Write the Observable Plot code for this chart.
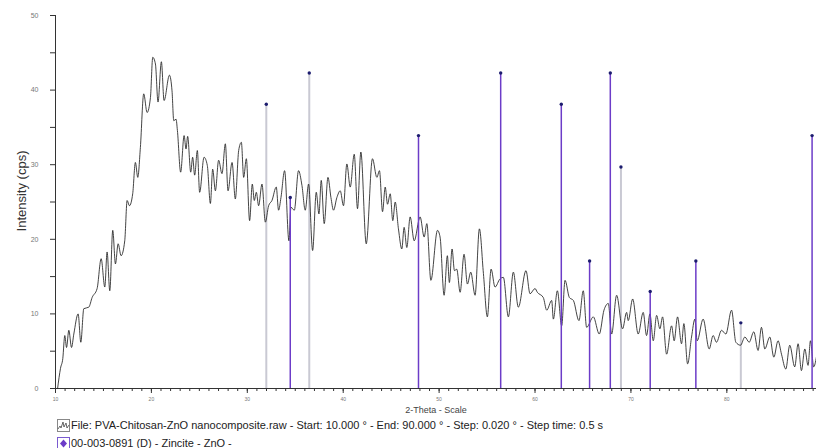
<!DOCTYPE html>
<html>
<head>
<meta charset="utf-8">
<script src="https://cdn.jsdelivr.net/npm/d3@7"></script>
<script src="https://cdn.jsdelivr.net/npm/@observablehq/plot@0.6"></script>
<style>
  html, body { margin: 0; padding: 0; background: #fff; width: 816px; height: 448px; overflow: hidden; }
  #chart svg { display: block; }
  #legend { font-family: "Liberation Sans", Arial, sans-serif; font-size: 11px; color: #222; }
  .lg { display: flex; align-items: center; height: 18px; margin-left: 57px; white-space: nowrap; }
  .lg svg { margin-right: 1px; }
  g[aria-label="y-axis tick label"] text, g[aria-label="x-axis tick label"] text { fill: #777; }
</style>
</head>
<body>
<div id="chart"></div>
<div id="legend"></div>
<script>
const twoTheta = [10.22,10.52,10.76,10.97,11.15,11.39,11.67,11.91,12.36,12.64,12.95,13.47,13.82,14.34,14.76,15.14,15.38,15.66,15.97,16.25,16.53,16.84,17.22,17.47,17.71,18.05,18.33,18.58,18.85,19.20,19.55,19.90,20.14,20.42,20.69,21.04,21.32,21.88,22.15,22.33,22.57,22.71,23.05,23.41,23.61,23.78,24.10,24.30,24.51,24.79,25.03,25.49,25.83,26.15,26.39,26.67,27.01,27.36,27.71,27.99,28.41,28.75,29.10,29.38,29.62,29.90,30.24,30.52,30.73,30.94,31.18,31.53,31.88,32.22,32.57,33.02,33.26,33.51,33.89,34.34,34.55,34.90,35.34,35.70,36.04,36.39,36.81,37.19,37.47,37.71,38.02,38.41,38.72,38.99,39.34,39.69,40.03,40.38,40.73,41.15,41.49,41.84,42.40,43.05,43.51,43.78,44.10,44.38,44.62,44.90,45.17,45.42,45.76,46.11,46.35,46.63,46.98,47.40,48.02,48.44,48.72,49.14,49.83,50.10,50.52,50.86,51.07,51.35,51.60,51.84,52.19,52.60,52.95,53.30,53.75,54.20,54.62,55.03,55.42,55.83,56.35,56.70,57.22,57.74,58.26,59.06,59.48,60.00,60.24,60.86,61.22,61.74,61.91,62.33,62.78,63.13,63.58,64.00,64.58,65.03,65.38,66.08,66.70,67.19,67.64,67.99,68.51,69.13,69.55,69.72,70.18,70.76,71.28,71.63,71.98,72.33,72.68,73.02,73.30,73.72,74.24,74.51,74.86,75.28,75.52,75.91,76.32,76.67,76.91,77.53,78.16,78.57,78.92,79.45,79.90,80.49,80.94,81.43,81.88,82.33,82.81,83.26,83.61,83.96,84.48,84.90,85.34,85.70,86.15,86.56,87.08,87.43,87.78,88.13,88.47,88.72,89.06,89.34];
const intensity = [0,2.7,4.0,7.1,5.5,7.8,5.5,7.3,10.0,6.2,10.7,10.9,12.2,13.4,17.4,13.6,18.3,13.1,21.2,16.7,19.4,17.8,19.8,25.2,24.5,26.1,30.3,28.3,32.3,39.5,37.0,39.0,44.4,43.5,38.4,43.8,38.6,42.0,39.9,35.9,36.1,34.6,29.0,33.9,32.1,33.8,29.0,31.0,28.6,31.9,26.3,31.0,29.9,24.8,29.4,26.5,30.6,28.8,32.8,26.5,30.3,25.4,31.9,33.0,28.3,30.8,22.5,27.4,25.2,26.3,24.5,27.4,22.3,24.5,25.2,27.0,23.9,25.6,29.2,19.8,24.3,23.9,29.2,27.2,23.9,27.4,18.5,26.3,23.4,27.9,22.1,28.3,25.6,23.9,25.6,26.5,24.5,30.1,27.0,31.4,24.1,31.7,19.4,30.8,28.3,29.2,23.7,27.0,24.7,26.1,22.5,25.0,21.4,18.7,21.6,18.9,23.0,19.8,23.0,20.3,22.1,14.5,21.2,20.3,12.5,17.8,14.2,18.7,15.8,16.0,12.9,18.0,14.0,15.6,12.5,21.4,15.4,9.6,16.0,13.6,14.7,14.9,9.6,15.6,10.9,15.8,12.7,13.4,12.9,12.2,10.5,11.8,9.3,13.1,8.4,14.5,12.2,11.8,9.1,13.1,8.2,9.6,7.3,10.5,11.4,7.3,12.5,8.0,10.2,9.1,12.0,7.3,10.2,7.1,10.0,6.4,9.8,8.0,9.6,4.6,8.4,6.4,9.6,6.0,8.7,3.3,6.9,9.3,6.4,9.3,5.3,7.1,6.2,7.8,7.3,10.5,6.2,5.8,6.9,6.2,7.6,5.1,8.2,5.3,6.9,4.2,6.4,4.6,2.6,5.8,2.9,6.0,2.4,5.3,3.1,6.4,2.9,4.2];

// Reference pattern 00-003-0891 (D) Zincite - ZnO (stick positions and heights)
const stickPos = [31.98,34.48,36.46,47.85,56.42,62.74,65.69,67.85,68.96,72.01,76.77,81.46,88.89];
const stickHeight = [38.1,25.6,42.3,33.9,42.3,38.1,17.1,42.3,29.7,13.0,17.1,8.8,33.9];
const stickShade = ["gray","purple","gray","purple","purple","purple","purple","purple","gray","purple","purple","gray","purple"];

const yTicks = [0,10,20,30,40,50];
const yMinor = [5,15,25,35,45];
const xTicks = [10,20,30,40,50,60,70,80];
const xMinor = d3.range(10, 90, 1);

const pattern = twoTheta.map((t, i) => ({t, v: intensity[i]}));
const sticks = stickPos.map((p, i) => ({p, h: stickHeight[i], c: stickShade[i]}));

const chart = Plot.plot({
  width: 816,
  height: 416,
  marginLeft: 55,
  marginRight: 0,
  marginTop: 15,
  marginBottom: 28,
  style: {fontFamily: "'Liberation Sans', Arial, sans-serif", background: "#fff", overflow: "visible"},
  x: {domain: [10, 89.35], label: null},
  y: {domain: [0, 50], label: null},
  marks: [
    Plot.axisY({ticks: yTicks, tickSize: 5, tickPadding: 12, fontSize: 7, tickFormat: d => d, label: null, stroke: "#333"}),
    Plot.axisY({ticks: yMinor, tickSize: 5, tickFormat: () => "", label: null, stroke: "#333"}),
    Plot.axisX({ticks: xMinor, tickSize: 3, tickFormat: () => "", label: null, stroke: "#333"}),
    Plot.axisX({ticks: xTicks, tickSize: 5, tickPadding: 4, fontSize: 5, tickFormat: d => d, label: null, stroke: "#333"}),
    Plot.ruleX([10], {y1: 0, y2: 50, stroke: "#333", strokeWidth: 1}),
    Plot.ruleY([0], {stroke: "#333", strokeWidth: 1}),
    Plot.ruleX(sticks.filter(d => d.c === "gray"), {x: "p", y1: 0, y2: "h", stroke: "#c9c9d3", strokeWidth: 2}),
    Plot.line(pattern, {x: "t", y: "v", curve: "monotone-x", stroke: "#222", strokeWidth: 0.85}),
    Plot.ruleX(sticks.filter(d => d.c === "purple"), {x: "p", y1: 0, y2: "h", stroke: "#6c3cc8", strokeWidth: 1.5}),
    Plot.dot(sticks, {x: "p", y: "h", r: 1.7, fill: "#1c1c6e", stroke: "none"}),
    Plot.text(["Intensity (cps)"], {frameAnchor: "left", textAnchor: "middle", dx: -34, dy: -11, rotate: -90, fontSize: 13, fill: "#333"}),
    Plot.text(["2-Theta - Scale"], {frameAnchor: "bottom", textAnchor: "middle", dy: 24, fontSize: 9, fill: "#444"})
  ]
});
document.getElementById("chart").appendChild(chart);

const legendItems = [
  {kind: "pattern", text: "File: PVA-Chitosan-ZnO nanocomposite.raw - Start: 10.000 ° - End: 90.000 ° - Step: 0.020 ° - Step time: 0.5 s"},
  {kind: "ref", text: "00-003-0891 (D) - Zincite - ZnO -"}
];
const legend = document.getElementById("legend");
for (const item of legendItems) {
  const row = document.createElement("div");
  row.className = "lg";
  const icon = item.kind === "pattern"
    ? `<svg width="13" height="13"><rect x="0.5" y="0.5" width="12" height="12" fill="#fff" stroke="#888"/><polyline points="1,10 3,7 4,9 6,3 7,8 9,4 10,9 12,6" fill="none" stroke="#444" stroke-width="0.8"/></svg>`
    : `<svg width="13" height="13"><rect x="0.5" y="0.5" width="12" height="12" fill="#fff" stroke="#7a5ad0"/><path d="M6.5,2.5 L10,6.5 L6.5,10.5 L3,6.5 Z" fill="#6c3cc8"/></svg>`;
  row.innerHTML = icon + `<span>${item.text}</span>`;
  legend.appendChild(row);
}
</script>
</body>
</html>
